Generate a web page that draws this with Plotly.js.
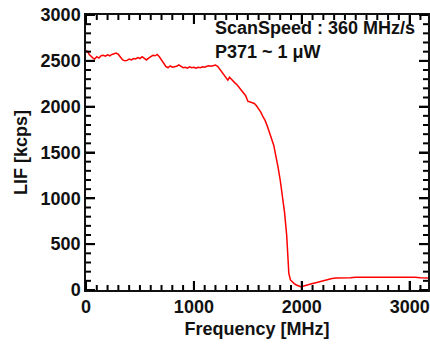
<!DOCTYPE html>
<html>
<head>
<meta charset="utf-8">
<script src="https://cdn.plot.ly/plotly-3.0.1.min.js"></script>
<style>html,body{margin:0;padding:0;background:#fff;}#chart{width:430px;height:349px;}</style>
</head>
<body>
<div id="chart"></div>
<script>
const frequency = [0,15,30,50,65,80,100,120,140,160,180,200,220,240,260,280,300,320,340,360,380,400,420,440,460,480,500,520,540,560,580,600,620,640,660,680,700,720,740,760,780,800,820,840,860,880,900,920,940,960,980,1000,1020,1040,1060,1080,1100,1120,1140,1160,1180,1200,1220,1240,1260,1280,1300,1315,1330,1345,1360,1380,1400,1420,1440,1460,1480,1500,1520,1540,1560,1580,1600,1620,1640,1660,1680,1700,1720,1740,1760,1780,1800,1820,1840,1860,1870,1880,1895,1910,1930,1950,1970,1990,2010,2030,2050,2070,2100,2130,2160,2200,2240,2280,2320,2360,2400,2450,2500,2550,2600,2650,2700,2750,2800,2850,2900,2950,3000,3050,3100,3150,3170];
const lif = [2610,2600,2570,2540,2530,2520,2545,2530,2555,2560,2550,2565,2555,2570,2575,2585,2570,2545,2510,2500,2505,2520,2510,2525,2520,2535,2525,2545,2530,2510,2530,2550,2560,2555,2570,2545,2510,2470,2440,2425,2445,2430,2435,2440,2455,2440,2425,2430,2420,2435,2425,2430,2420,2430,2425,2435,2430,2440,2445,2440,2450,2455,2440,2410,2380,2350,2320,2290,2320,2300,2280,2260,2240,2210,2190,2160,2120,2060,2050,2045,2035,2010,1975,1940,1890,1850,1790,1730,1650,1580,1470,1340,1200,1050,850,600,420,180,110,90,70,55,45,35,40,45,55,60,70,80,90,100,115,125,130,130,135,135,140,140,145,140,145,145,145,140,145,140,140,140,135,135,130];

const xTickVals = [0,1000,2000,3000];
const yTickVals = [0,500,1000,1500,2000,2500,3000];
const annotationLines = ["ScanSpeed : 360 MHz/s", "P371 ~ 1 \u03bcW"];

const W = 430, H = 349;
const margin = {l: 86, r: 2, t: 15, b: 59};
const plotW = W - margin.l - margin.r, plotH = H - margin.t - margin.b;
const xRange = [0, 3170], yRange = [0, 3000];
const minorStep = 100, majorLen = 9, minorLen = 5;

const font = {family: "Liberation Sans, Arial, sans-serif", size: 18, color: "#111", weight: "bold"};
function axis(range, tickvals, titleText, standoff) {
  return {
    range: range,
    showline: true, linecolor: "#111", linewidth: 1.5, mirror: "ticks",
    ticks: "inside", ticklen: majorLen, tickwidth: 2, tickcolor: "#000",
    showgrid: false, zeroline: false, tickfont: font,
    tickmode: "array", tickvals: tickvals, ticktext: tickvals.map(String),
    title: {text: titleText, font: font, standoff: standoff}
  };
}

// minor tick marks (inside, mirrored) drawn as paper-referenced shapes
const shapes = [];
const tickLine = {color: "#000", width: 2};
for (let v = xRange[0]; v <= xRange[1]; v += minorStep) {
  const len = (xTickVals.includes(v) ? majorLen : minorLen) / plotH;
  const px = (v - xRange[0]) / (xRange[1] - xRange[0]);
  shapes.push({type: "line", xref: "paper", yref: "paper", x0: px, x1: px, y0: 0, y1: len, line: tickLine, layer: "above"});
  shapes.push({type: "line", xref: "paper", yref: "paper", x0: px, x1: px, y0: 1, y1: 1 - len, line: tickLine, layer: "above"});
}
for (let v = yRange[0]; v <= yRange[1]; v += minorStep) {
  const len = (yTickVals.includes(v) ? majorLen : minorLen) / plotW;
  const py = (v - yRange[0]) / (yRange[1] - yRange[0]);
  shapes.push({type: "line", xref: "paper", yref: "paper", y0: py, y1: py, x0: 0, x1: len, line: tickLine, layer: "above"});
  shapes.push({type: "line", xref: "paper", yref: "paper", y0: py, y1: py, x0: 1, x1: 1 - len, line: tickLine, layer: "above"});
}

const data = [{
  x: frequency, y: lif, type: "scatter", mode: "lines",
  line: {color: "#ff0000", width: 1.5}
}];

const layout = {
  width: W, height: H,
  margin: margin,
  paper_bgcolor: "#fff", plot_bgcolor: "#fff",
  showlegend: false,
  xaxis: axis(xRange, xTickVals, "Frequency [MHz]", 6),
  yaxis: axis(yRange, yTickVals, "LIF [kcps]", 8),
  shapes: shapes,
  annotations: [
    {xref: "paper", yref: "paper", x: 0.37, y: 0.995, xanchor: "left", yanchor: "top",
     text: annotationLines[0], showarrow: false, font: font},
    {xref: "paper", yref: "paper", x: 0.37, y: 0.91, xanchor: "left", yanchor: "top",
     text: annotationLines[1], showarrow: false, font: font}
  ]
};

Plotly.newPlot("chart", data, layout, {displayModeBar: false});
</script>
</body>
</html>
